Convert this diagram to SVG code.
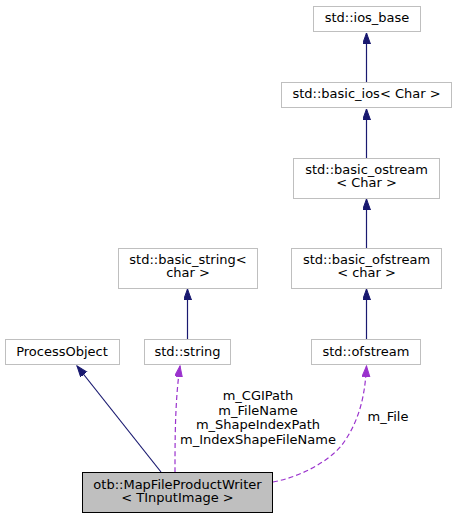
<svg xmlns="http://www.w3.org/2000/svg" width="457" height="519" viewBox="0 0 457 519">
<style>
.n{fill:#ffffff;stroke:#bfbfbf;stroke-width:1}
.m{fill:#bfbfbf;stroke:#000000;stroke-width:1}
text{font-family:"DejaVu Sans",sans-serif;font-size:13px;fill:#000000;text-anchor:middle}
.inh{fill:none;stroke:#191970;stroke-width:1.2}
.use{fill:none;stroke:#9a32cd;stroke-width:1.2;stroke-dasharray:5,3}
</style>
<defs>
<marker id="ab" markerUnits="userSpaceOnUse" markerWidth="12" markerHeight="10" refX="11" refY="4" orient="auto">
<path d="M0,0 L11,4 L0,8 z" fill="#191970" stroke="#191970"/>
</marker>
<marker id="ap" markerUnits="userSpaceOnUse" markerWidth="12" markerHeight="10" refX="11" refY="4" orient="auto">
<path d="M0,0 L11,4 L0,8 z" fill="#9a32cd" stroke="#9a32cd"/>
</marker>
</defs>
<g id="connectors">
<path class="inh" d="M366.5,82 L366.5,33" marker-end="url(#ab)"/>
<path class="inh" d="M366.5,158 L366.5,109" marker-end="url(#ab)"/>
<path class="inh" d="M366.5,248 L366.5,199" marker-end="url(#ab)"/>
<path class="inh" d="M366.5,339 L366.5,289" marker-end="url(#ab)"/>
<path class="inh" d="M187.5,339 L187.5,289" marker-end="url(#ab)"/>
<path class="inh" d="M161,472 L77,366" marker-end="url(#ab)"/>
<path class="use" d="M175,472 C175,440 175,400 180,366" marker-end="url(#ap)"/>
<path class="use" d="M273,482 C300,477 328,462 342,445 C360,420 365,395 366.5,366" marker-end="url(#ap)"/>
<text x="258" y="400">m_CGIPath</text>
<text x="258" y="414.5">m_FileName</text>
<text x="258" y="429">m_ShapeIndexPath</text>
<text x="258" y="443.5">m_IndexShapeFileName</text>
<text x="388" y="421">m_File</text>
</g>
<g id="node-ios_base">
<rect class="n" x="313.5" y="6.5" width="107" height="25"/>
<text x="367" y="22">std::ios_base</text>
</g>
<g id="node-basic_ios">
<rect class="n" x="281.5" y="82.5" width="170" height="25"/>
<text x="366.5" y="98">std::basic_ios&lt; Char &gt;</text>
</g>
<g id="node-basic_ostream">
<rect class="n" x="293.5" y="158.5" width="146" height="40"/>
<text x="366.5" y="173.5">std::basic_ostream</text>
<text x="366.5" y="187">&lt; Char &gt;</text>
</g>
<g id="node-basic_string">
<rect class="n" x="118.5" y="248.5" width="139" height="40"/>
<text x="188" y="263.5">std::basic_string&lt;</text>
<text x="188" y="277">char &gt;</text>
</g>
<g id="node-basic_ofstream">
<rect class="n" x="291.5" y="248.5" width="150" height="40"/>
<text x="366.5" y="263.5">std::basic_ofstream</text>
<text x="366.5" y="277">&lt; char &gt;</text>
</g>
<g id="node-ProcessObject">
<rect class="n" x="5.5" y="339.5" width="114" height="25"/>
<text x="62" y="355.5">ProcessObject</text>
</g>
<g id="node-string">
<rect class="n" x="144.5" y="339.5" width="86" height="25"/>
<text x="187.5" y="355.5">std::string</text>
</g>
<g id="node-ofstream">
<rect class="n" x="311.5" y="339.5" width="109" height="25"/>
<text x="366" y="355.5">std::ofstream</text>
</g>
<g id="node-main">
<rect class="m" x="82.5" y="472.5" width="190" height="40"/>
<text x="177.5" y="488.5">otb::MapFileProductWriter</text>
<text x="177.5" y="502">&lt; TInputImage &gt;</text>
</g>
</svg>
